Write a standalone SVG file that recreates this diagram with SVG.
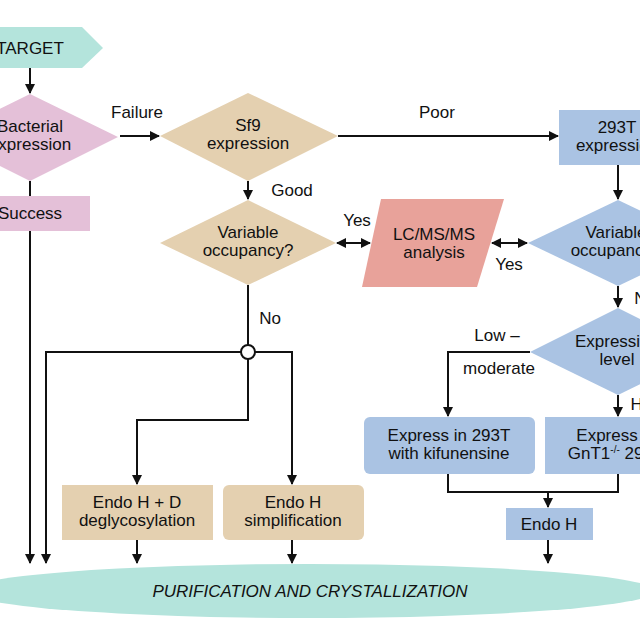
<svg xmlns="http://www.w3.org/2000/svg" width="640" height="640" viewBox="0 0 640 640">
<style>
text{font-family:"Liberation Sans",Arial,sans-serif;font-size:17px;fill:#111;text-anchor:middle}
.l{fill:none;stroke:#111;stroke-width:2}
.teal{fill:#b4e4dc}.pink{fill:#e4c0d8}.tan{fill:#e4d0b0}.blue{fill:#aac3e3}.sal{fill:#e8a29a}
</style>
<defs>
<marker id="a" markerWidth="10" markerHeight="10" refX="9" refY="5" orient="auto-start-reverse" markerUnits="userSpaceOnUse" viewBox="0 0 10 10"><path d="M0,0L10,5L0,10z" fill="#111"/></marker>
</defs>
<rect width="640" height="640" fill="#fff"/>
<g id="purif"><ellipse class="teal" cx="310" cy="591" rx="345" ry="27"/><text x="310" y="597" font-style="italic">PURIFICATION AND CRYSTALLIZATION</text></g>
<g id="target"><path class="teal" d="M-60,27H82L103,48L82,68H-60z"/><text x="30" y="54">TARGET</text></g>
<g id="bacterial"><path class="pink" d="M30,94L118,137L30,181L-58,137z"/><text x="30" y="132">Bacterial</text><text x="30" y="150">expression</text></g>
<g id="success"><rect class="pink" x="-40" y="196" width="130" height="35"/><text x="30" y="219">Success</text></g>
<g id="sf9"><path class="tan" d="M248,93L338,136L248,181L160,136z"/><text x="248" y="131">Sf9</text><text x="248" y="149">expression</text></g>
<g id="varocc1"><path class="tan" d="M248,200L336,243L248,285L160,243z"/><text x="248" y="238">Variable</text><text x="248" y="256">occupancy?</text></g>
<g id="lcms"><path class="sal" d="M381,199H504L477,287H362z"/><text x="434" y="240">LC/MS/MS</text><text x="434" y="258">analysis</text></g>
<g id="t293"><rect class="blue" x="559" y="110" width="120" height="55"/><text x="617" y="133">293T</text><text x="617" y="151">expression</text></g>
<g id="varocc2"><path class="blue" d="M618,200L708,243L618,286L528,243z"/><text x="616" y="238">Variable</text><text x="616" y="256">occupancy?</text></g>
<g id="exlevel"><path class="blue" d="M618,308L706,352L618,395L530,352z"/><text x="617" y="347">Expression</text><text x="617" y="365">level</text></g>
<g id="kif"><rect class="blue" x="364" y="417" width="171" height="57" rx="6"/><text x="449" y="441">Express in 293T</text><text x="449" y="459">with kifunensine</text></g>
<g id="gnt"><rect class="blue" x="545" y="417" width="150" height="57"/><text x="616" y="441">Express in</text><text x="616" y="459">GnT1<tspan font-size="10" dy="-6">-/-</tspan><tspan dy="6"> 293S</tspan></text></g>
<g id="endohd"><rect class="tan" x="62" y="485" width="151" height="55"/><text x="137" y="508">Endo H + D</text><text x="137" y="526">deglycosylation</text></g>
<g id="endohs"><rect class="tan" x="223" y="485" width="141" height="55" rx="6"/><text x="293" y="508">Endo H</text><text x="293" y="526">simplification</text></g>
<g id="endoh"><rect class="blue" x="506" y="508" width="87" height="32"/><text x="549" y="530">Endo H</text></g>
<g id="junction"><circle cx="248" cy="352" r="7" fill="#fff" stroke="#111" stroke-width="2"/></g>
<g id="connectors">
<path class="l" marker-end="url(#a)" d="M30,68V93"/>
<path class="l" d="M30,181V196"/>
<path class="l" marker-end="url(#a)" d="M30,231V563"/>
<path class="l" marker-end="url(#a)" d="M120,136H159"/>
<path class="l" marker-end="url(#a)" d="M248,181V199"/>
<path class="l" d="M248,285V345"/>
<path class="l" marker-end="url(#a)" d="M241,352H46V563"/>
<path class="l" marker-end="url(#a)" d="M255,352H292V484"/>
<path class="l" marker-end="url(#a)" d="M248,359V420H137V484"/>
<path class="l" marker-end="url(#a)" d="M137,540V563"/>
<path class="l" marker-end="url(#a)" d="M292,540V563"/>
<path class="l" marker-end="url(#a)" d="M338,136H558"/>
<path class="l" marker-end="url(#a)" d="M618,165V199"/>
<path class="l" marker-start="url(#a)" marker-end="url(#a)" d="M337,243H370"/>
<path class="l" marker-start="url(#a)" marker-end="url(#a)" d="M492,243H527"/>
<path class="l" marker-end="url(#a)" d="M618,286V307"/>
<path class="l" marker-end="url(#a)" d="M530,352H448V416"/>
<path class="l" marker-end="url(#a)" d="M618,395V416"/>
<path class="l" d="M448,474V492H618V474"/>
<path class="l" marker-end="url(#a)" d="M548,492V507"/>
<path class="l" marker-end="url(#a)" d="M548,540V563"/>
</g>
<g id="labels">
<text x="137" y="118">Failure</text>
<text x="292" y="196">Good</text>
<text x="270" y="324">No</text>
<text x="437" y="118">Poor</text>
<text x="357" y="226">Yes</text>
<text x="509" y="270">Yes</text>
<text x="645" y="304">No</text>
<text x="497" y="341">Low –</text>
<text x="499" y="374">moderate</text>
<text x="648" y="410">High</text>
</g>
</svg>
